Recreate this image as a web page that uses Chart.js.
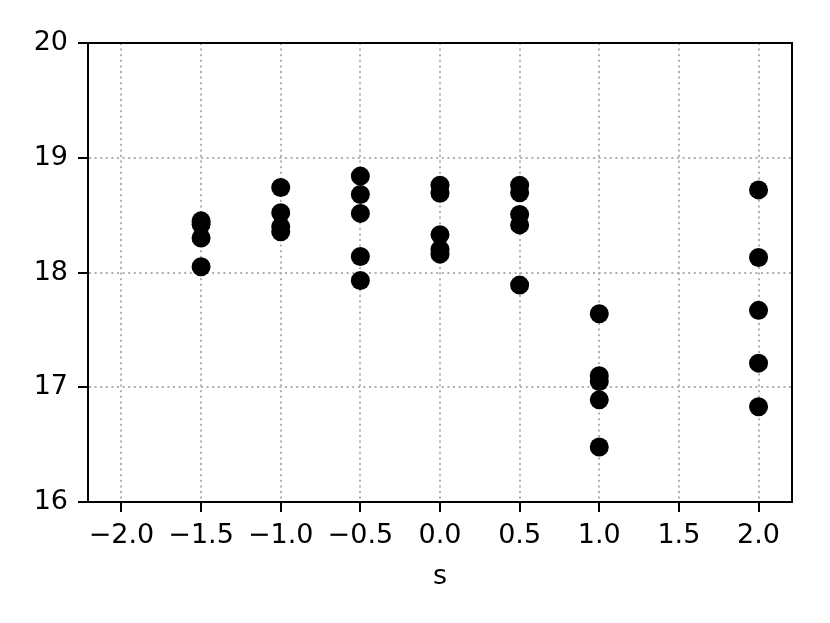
<!DOCTYPE html>
<html>
<head>
<meta charset="utf-8">
<script src="https://cdn.jsdelivr.net/npm/chart.js@4/dist/chart.umd.min.js"></script>
<style>
  html, body { margin: 0; padding: 0; background: #fff; }
  canvas { display: block; }
</style>
</head>
<body>
<canvas id="chart" width="830" height="623"></canvas>
<script>
  const sValues = [-1.5, -1.0, -0.5, 0.0, 0.5, 1.0, 2.0];
  const yAtMinus15 = [18.45, 18.42, 18.30, 18.05];
  const yAtMinus10 = [18.74, 18.52, 18.40, 18.355];
  const yAtMinus05 = [18.84, 18.68, 18.515, 18.14, 17.93];
  const yAt00 = [18.76, 18.69, 18.33, 18.20, 18.16];
  const yAt05 = [18.76, 18.695, 18.505, 18.415, 17.89];
  const yAt10 = [17.64, 17.10, 17.05, 16.89, 16.48];
  const yAt20 = [18.72, 18.13, 17.67, 17.21, 16.83];
  const yGroups = [yAtMinus15, yAtMinus10, yAtMinus05, yAt00, yAt05, yAt10, yAt20];

  const xTicks = [-2.0, -1.5, -1.0, -0.5, 0.0, 0.5, 1.0, 1.5, 2.0];
  const yTicks = [16, 17, 18, 19, 20];
  const xLabel = 's';

  const points = [];
  sValues.forEach((s, i) => {
    yGroups[i].forEach((y) => points.push({ x: s, y: y }));
  });

  const font = { family: 'DejaVu Sans', size: 27 };
  const fmtX = (v) => (v < 0 ? '\u2212' : '') + Math.abs(v).toFixed(1);

  // v4 reads the grid line dash from border.dash
  const gridOpts = {
    color: '#b0b0b0',
    lineWidth: 2,
    drawTicks: true,
    tickLength: 10,
    tickColor: '#000',
    tickWidth: 2,
    tickBorderDash: []
  };
  const borderOpts = { display: true, color: '#000', width: 2, dash: [2, 3.6] };

  const frame = {
    id: 'frame',
    afterDraw(chart) {
      const { ctx, chartArea: a } = chart;
      ctx.save();
      ctx.setLineDash([]);
      ctx.strokeStyle = '#000';
      ctx.lineWidth = 2;
      ctx.strokeRect(a.left, a.top, a.right - a.left, a.bottom - a.top);
      ctx.restore();
    }
  };

  new Chart(document.getElementById('chart'), {
    type: 'scatter',
    data: {
      datasets: [
        {
          data: points,
          backgroundColor: '#000',
          borderWidth: 0,
          pointRadius: 9.5,
          pointHoverRadius: 9.5
        }
      ]
    },
    options: {
      responsive: false,
      animation: false,
      layout: { padding: { top: 43, right: 38, left: 0, bottom: 0 } },
      plugins: { legend: { display: false }, tooltip: { enabled: false } },
      scales: {
        x: {
          type: 'linear',
          min: -2.21,
          max: 2.21,
          afterBuildTicks: (s) => { s.ticks = xTicks.map((v) => ({ value: v })); },
          afterFit: (s) => { s.height = 121; },
          grid: gridOpts,
          border: borderOpts,
          ticks: { font: font, color: '#000', padding: 8, maxRotation: 0, callback: (v) => fmtX(v) },
          title: { display: true, text: xLabel, font: font, color: '#000', padding: { top: 4, bottom: 30 } }
        },
        y: {
          type: 'linear',
          min: 16,
          max: 20,
          afterBuildTicks: (s) => { s.ticks = yTicks.map((v) => ({ value: v })); },
          afterFit: (s) => { s.width = 88; },
          grid: gridOpts,
          border: borderOpts,
          ticks: { font: font, color: '#000', padding: 10, callback: (v) => String(v) }
        }
      }
    },
    plugins: [frame]
  });
</script>
</body>
</html>
